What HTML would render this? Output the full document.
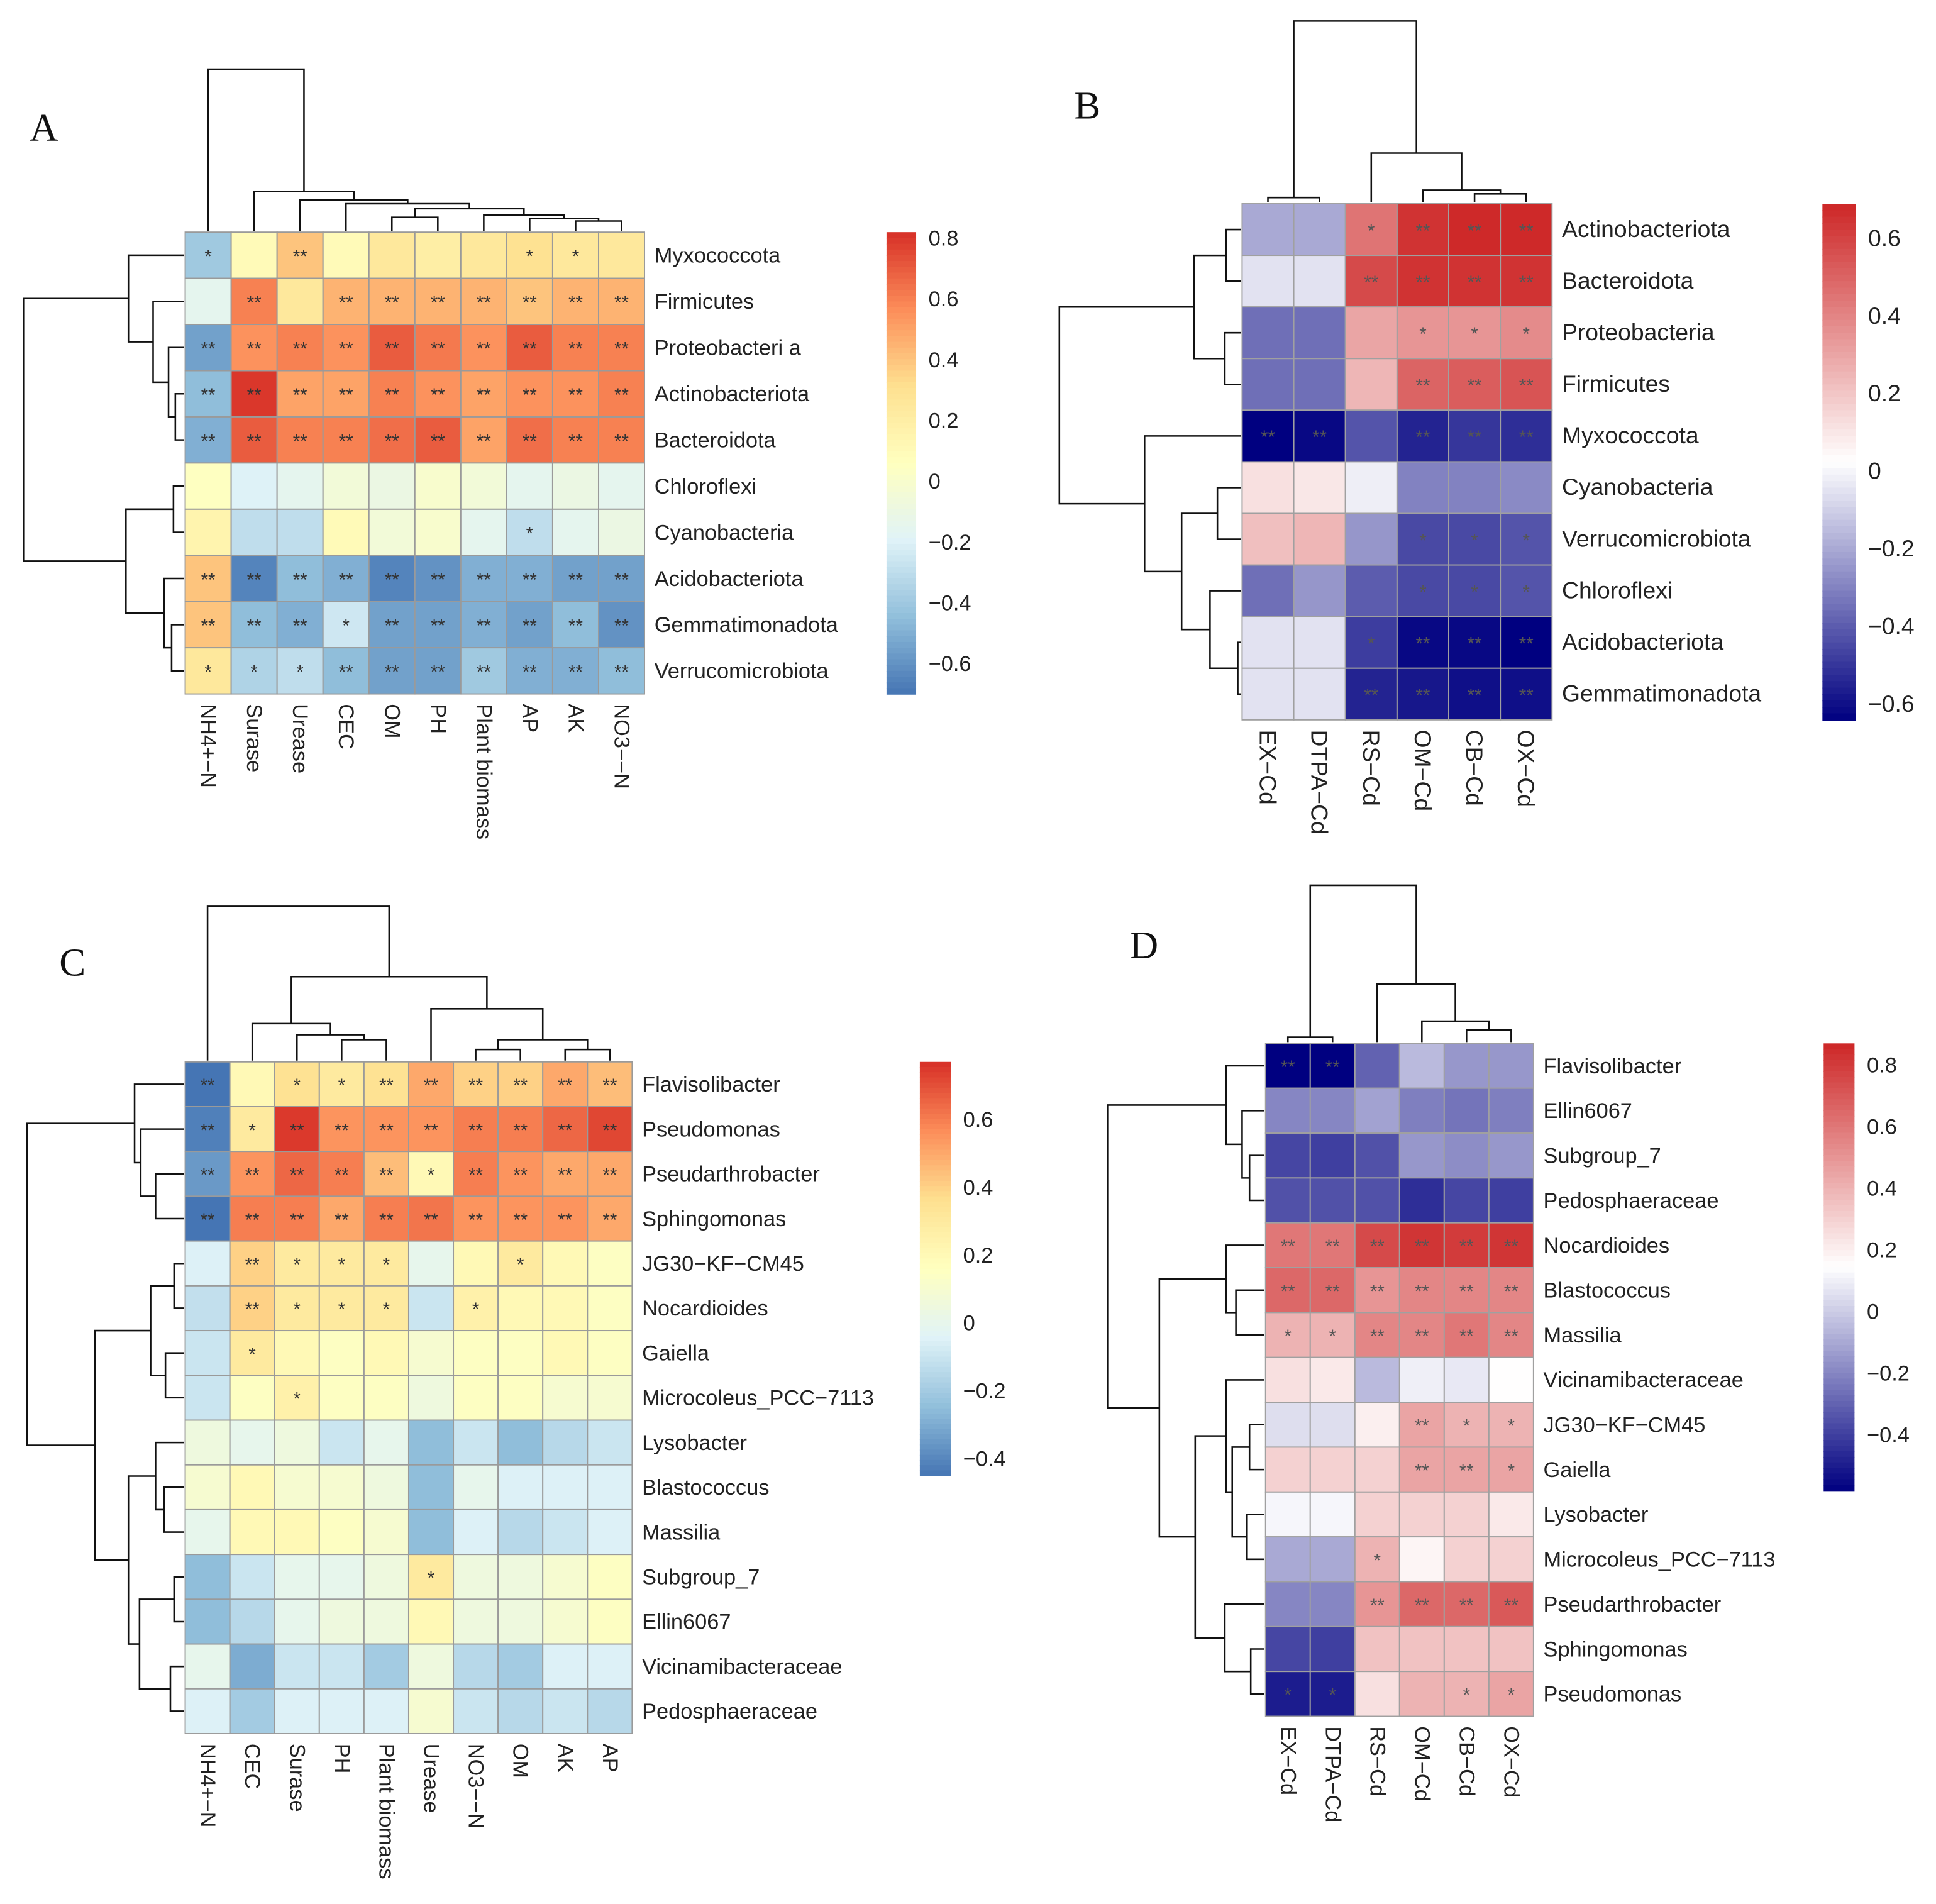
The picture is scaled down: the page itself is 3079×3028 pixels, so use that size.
<!DOCTYPE html>
<html><head><meta charset="utf-8"><style>
html,body{margin:0;padding:0;background:#fff}
svg{display:block}
text{font-family:"Liberation Sans",sans-serif}
</style></head><body>
<svg id="fig" xmlns="http://www.w3.org/2000/svg" width="3079" height="3028" viewBox="0 0 1568 1542" preserveAspectRatio="none">
<rect width="1568" height="1542" fill="#fff"/>
</svg>
<script>
// ---------- Panel A data ----------
const aCols = ["NH4+\u2212N","Surase","Urease","CEC","OM","PH","Plant biomass","AP","AK","NO3\u2212\u2212N"];
const aRows = ["Myxococcota","Firmicutes","Proteobacteri a","Actinobacteriota","Bacteroidota","Chloroflexi","Cyanobacteria","Acidobacteriota","Gemmatimonadota","Verrucomicrobiota"];
const aVals = [
[-0.40,0.10,0.40,0.10,0.25,0.20,0.25,0.30,0.25,0.25],
[-0.15,0.60,0.25,0.45,0.45,0.45,0.45,0.40,0.45,0.45],
[-0.55,0.55,0.60,0.55,0.70,0.62,0.55,0.70,0.60,0.60],
[-0.45,0.80,0.50,0.50,0.60,0.55,0.50,0.55,0.55,0.60],
[-0.50,0.70,0.60,0.60,0.65,0.70,0.50,0.65,0.60,0.60],
[0.05,-0.20,-0.15,-0.05,-0.10,0.00,-0.05,-0.15,-0.10,-0.15],
[0.15,-0.30,-0.30,0.10,-0.05,0.00,-0.15,-0.30,-0.15,-0.10],
[0.40,-0.65,-0.45,-0.50,-0.65,-0.60,-0.50,-0.50,-0.55,-0.55],
[0.40,-0.45,-0.50,-0.25,-0.55,-0.55,-0.50,-0.55,-0.45,-0.60],
[0.25,-0.35,-0.30,-0.45,-0.55,-0.55,-0.40,-0.50,-0.50,-0.45]];
const aStars = [
["*","","**","","","","","*","*",""],
["","**","","**","**","**","**","**","**","**"],
["**","**","**","**","**","**","**","**","**","**"],
["**","**","**","**","**","**","**","**","**","**"],
["**","**","**","**","**","**","**","**","**","**"],
["","","","","","","","","",""],
["","","","","","","","*","",""],
["**","**","**","**","**","**","**","**","**","**"],
["**","**","**","*","**","**","**","**","**","**"],
["*","*","*","**","**","**","**","**","**","**"]];
const aTicks = [0.8,0.6,0.4,0.2,0,-0.2,-0.4,-0.6];
const aTickLabels = ["0.8","0.6","0.4","0.2","0","\u22120.2","\u22120.4","\u22120.6"];

// ---------- Panel B data ----------
const bCols = ["EX\u2212Cd","DTPA\u2212Cd","RS\u2212Cd","OM\u2212Cd","CB\u2212Cd","OX\u2212Cd"];
const bRows = ["Actinobacteriota","Bacteroidota","Proteobacteria","Firmicutes","Myxococcota","Cyanobacteria","Verrucomicrobiota","Chloroflexi","Acidobacteriota","Gemmatimonadota"];
const bVals = [
[-0.20,-0.20,0.45,0.65,0.68,0.68],
[-0.05,-0.05,0.58,0.65,0.65,0.65],
[-0.35,-0.35,0.30,0.35,0.35,0.38],
[-0.35,-0.35,0.25,0.50,0.52,0.55],
[-0.64,-0.62,-0.42,-0.55,-0.50,-0.52],
[0.12,0.10,-0.02,-0.30,-0.30,-0.28],
[0.22,0.25,-0.25,-0.45,-0.45,-0.42],
[-0.35,-0.25,-0.40,-0.45,-0.45,-0.42],
[-0.05,-0.05,-0.48,-0.62,-0.62,-0.64],
[-0.05,-0.05,-0.55,-0.58,-0.60,-0.60]];
const bStars = [
["","","*","**","**","**"],
["","","**","**","**","**"],
["","","","*","*","*"],
["","","","**","**","**"],
["**","**","","**","**","**"],
["","","","","",""],
["","","","*","*","*"],
["","","","*","*","*"],
["","","*","**","**","**"],
["","","**","**","**","**"]];
const bTicks = [0.6,0.4,0.2,0,-0.2,-0.4,-0.6];
const bTickLabels = ["0.6","0.4","0.2","0","\u22120.2","\u22120.4","\u22120.6"];

// ---------- Panel C data ----------
const cCols = ["NH4+\u2212N","CEC","Surase","PH","Plant biomass","Urease","NO3\u2212\u2212N","OM","AK","AP"];
const cRows = ["Flavisolibacter","Pseudomonas","Pseudarthrobacter","Sphingomonas","JG30\u2212KF\u2212CM45","Nocardioides","Gaiella","Microcoleus_PCC\u22127113","Lysobacter","Blastococcus","Massilia","Subgroup_7","Ellin6067","Vicinamibacteraceae","Pedosphaeraceae"];
const cVals = [
[-0.45,0.20,0.35,0.30,0.35,0.50,0.40,0.40,0.50,0.45],
[-0.42,0.30,0.75,0.55,0.55,0.55,0.60,0.60,0.65,0.72],
[-0.35,0.55,0.65,0.60,0.45,0.20,0.60,0.55,0.50,0.50],
[-0.45,0.60,0.60,0.50,0.60,0.62,0.55,0.55,0.55,0.50],
[-0.05,0.40,0.30,0.30,0.30,0.00,0.20,0.30,0.20,0.15],
[-0.12,0.40,0.30,0.30,0.30,-0.10,0.25,0.20,0.20,0.15],
[-0.10,0.30,0.20,0.15,0.20,0.10,0.15,0.15,0.20,0.15],
[-0.10,0.15,0.25,0.15,0.15,0.05,0.15,0.15,0.10,0.10],
[0.05,0.00,0.05,-0.10,0.00,-0.25,-0.10,-0.25,-0.15,-0.10],
[0.10,0.20,0.10,0.10,0.05,-0.25,0.00,-0.05,-0.05,-0.05],
[0.00,0.20,0.20,0.15,0.10,-0.25,-0.05,-0.15,-0.10,-0.05],
[-0.25,-0.10,0.00,0.00,0.05,0.30,0.05,0.05,0.10,0.15],
[-0.25,-0.15,0.00,0.05,0.05,0.20,0.05,0.05,0.10,0.15],
[0.00,-0.30,-0.10,-0.10,-0.20,0.05,-0.15,-0.20,-0.05,-0.05],
[-0.05,-0.20,-0.05,-0.05,-0.05,0.10,-0.10,-0.15,-0.10,-0.15]];
const cStars = [
["**","","*","*","**","**","**","**","**","**"],
["**","*","**","**","**","**","**","**","**","**"],
["**","**","**","**","**","*","**","**","**","**"],
["**","**","**","**","**","**","**","**","**","**"],
["","**","*","*","*","","","*","",""],
["","**","*","*","*","","*","","",""],
["","*","","","","","","","",""],
["","","*","","","","","","",""],
["","","","","","","","","",""],
["","","","","","","","","",""],
["","","","","","","","","",""],
["","","","","","*","","","",""],
["","","","","","","","","",""],
["","","","","","","","","",""],
["","","","","","","","","",""]];
const cTicks = [0.6,0.4,0.2,0,-0.2,-0.4];
const cTickLabels = ["0.6","0.4","0.2","0","\u22120.2","\u22120.4"];

// ---------- Panel D data ----------
const dCols = ["EX\u2212Cd","DTPA\u2212Cd","RS\u2212Cd","OM\u2212Cd","CB\u2212Cd","OX\u2212Cd"];
const dRows = ["Flavisolibacter","Ellin6067","Subgroup_7","Pedosphaeraceae","Nocardioides","Blastococcus","Massilia","Vicinamibacteraceae","JG30\u2212KF\u2212CM45","Gaiella","Lysobacter","Microcoleus_PCC\u22127113","Pseudarthrobacter","Sphingomonas","Pseudomonas"];
const dVals = [
[-0.58,-0.58,-0.30,-0.05,-0.15,-0.15],
[-0.20,-0.20,-0.12,-0.22,-0.25,-0.22],
[-0.38,-0.40,-0.35,-0.15,-0.18,-0.15],
[-0.35,-0.35,-0.35,-0.45,-0.38,-0.40],
[0.60,0.60,0.75,0.82,0.80,0.82],
[0.65,0.65,0.50,0.55,0.55,0.55],
[0.40,0.40,0.55,0.55,0.60,0.55],
[0.25,0.22,-0.05,0.10,0.08,0.15],
[0.05,0.05,0.20,0.45,0.40,0.40],
[0.30,0.30,0.30,0.45,0.45,0.45],
[0.12,0.12,0.30,0.30,0.30,0.22],
[-0.10,-0.10,0.40,0.18,0.30,0.30],
[-0.20,-0.20,0.50,0.65,0.65,0.70],
[-0.38,-0.40,0.35,0.35,0.35,0.35],
[-0.50,-0.50,0.25,0.40,0.40,0.45]];
const dStars = [
["**","**","","","",""],
["","","","","",""],
["","","","","",""],
["","","","","",""],
["**","**","**","**","**","**"],
["**","**","**","**","**","**"],
["*","*","**","**","**","**"],
["","","","","",""],
["","","","**","*","*"],
["","","","**","**","*"],
["","","","","",""],
["","","*","","",""],
["","","**","**","**","**"],
["","","","","",""],
["*","*","","","*","*"]];
const dTicks = [0.8,0.6,0.4,0.2,0,-0.2,-0.4];
const dTickLabels = ["0.8","0.6","0.4","0.2","0","\u22120.2","\u22120.4"];

// dendrogram trees: [left, right, height]; leaves are indices
const aColTree = [0,[1,[2,[3,[[4,5,11],[6,[7,[8,9,8],10],13],18],22],25],32],131];
const aRowTree = [[0,[1,[2,[3,4,7],12.5],25],45],[[5,6,8.5],[7,[8,9,10],16],47],130];
const bColTree = [[0,1,4],[2,[3,[4,5,7],10],40],147];
const bRowTree = [[[0,1,12],[2,3,13],38],[4,[[5,6,19],[7,[8,9,2.5],25],48],78],147];
const cColTree = [0,[[1,[2,[3,4,17],21],30],[5,[[6,7,9],[8,9,9],17],42],68],125];
const cRowTree = [[0,[1,[2,3,23],35],40],[[[4,5,8],[6,7,15],27],[[8,[9,10,16],23],[[11,12,8],[13,14,11],36],45],72],127];
const dColTree = [[0,1,4],[2,[3,[4,5,10],17],47],127];
const dRowTree = [[0,[1,[2,3,12],18],31],[[4,[5,6,23],31],[[7,[[8,9,12],[10,11,14],26],31],[12,[13,14,11],32],56],85],127];

const RDYLBU = ["#4575B4","#91BFDB","#E0F3F8","#FFFFBF","#FEE090","#FC8D59","#D73027"];
const BWR = ["#000080","#FFFFFF","#CD2626"];

const svg = document.getElementById('fig');
const NS = "http://www.w3.org/2000/svg";
function mk(tag, attrs, parent){ const e=document.createElementNS(NS,tag); for(const k in attrs) e.setAttribute(k,attrs[k]); (parent||svg).appendChild(e); return e; }
function hex(h){return [parseInt(h.slice(1,3),16),parseInt(h.slice(3,5),16),parseInt(h.slice(5,7),16)];}
function pal(stops,t){ t=Math.max(0,Math.min(1,t)); const n=stops.length-1; const i=Math.min(n-1,Math.floor(t*n)); const f=t*n-i; const a=hex(stops[i]),b=hex(stops[i+1]); return "rgb("+a.map((v,k)=>Math.round(v+(b[k]-v)*f)).join(",")+")"; }

function drawTree(g, tree, leafPos, base, dir){
  function rec(node){
    if(typeof node==="number") return [leafPos(node),0];
    const L=rec(node[0]), R=rec(node[1]); const h=node[2];
    let d;
    if(dir==="up"){ const y=base-h; d=`M${L[0]},${base-L[1]}V${y}H${R[0]}V${base-R[1]}`; }
    else { const x=base-h; d=`M${base-L[1]},${L[0]}H${x}V${R[0]}H${base-R[1]}`; }
    const p=mk('path',{d:d,fill:'none',stroke:'#111','stroke-width':1.3},g);
    
    
    return [(L[0]+R[0])/2,h];
  }
  rec(tree);
}

function panel(P){
  const g=mk('g',{});
  
  
  const nC=P.cols.length, nR=P.rows.length;
  const cw=(P.x1-P.x0)/nC, rh=(P.y1-P.y0)/nR;
  const xc=j=>P.x0+cw*(j+0.5), yc=i=>P.y0+rh*(i+0.5);
  const t=v=>(v-P.vmin)/(P.vmax-P.vmin);
  const lab=mk('text',{x:P.lx,y:P.ly,'font-size':32,fill:'#111',style:'font-family:"Liberation Serif",serif'},g);
  lab.textContent=P.id;
  
  
  const cells=mk('g',{},g);
  
  
  for(let i=0;i<nR;i++) for(let j=0;j<nC;j++){
    const r=mk('rect',{x:P.x0+cw*j,y:P.y0+rh*i,width:cw,height:rh,fill:pal(P.pal,t(P.vals[i][j])),stroke:P.grid,'stroke-width':1},cells);
    
    
    const s=P.stars[i][j];
    if(s){ const st=mk('text',{x:xc(j),y:yc(i)+6,'text-anchor':'middle','font-size':15,fill:P.starFill},cells); st.textContent=s;
      
       }
  }
  for(let i=0;i<nR;i++){ const tx=mk('text',{x:P.x1+8,y:yc(i)+6,'font-size':P.fs,fill:'#222'},g); tx.textContent=P.rows[i];
    
     }
  for(let j=0;j<nC;j++){ const x=xc(j), y=P.y1+8; const tx=mk('text',{x:x,y:y,transform:`rotate(90 ${x} ${y})`,'font-size':P.fs,fill:'#222','dominant-baseline':'central'},g); tx.textContent=P.cols[j];
    
     }
  drawTree(g,P.colTree,xc,P.y0-1,"up");
  drawTree(g,P.rowTree,yc,P.x0-1,"left");
  const cb=mk('g',{},g);
  
  
  const N=80, hh=(P.cb.y1-P.cb.y0)/N;
  for(let k=0;k<N;k++){ mk('rect',{x:P.cb.x,y:P.cb.y0+k*hh,width:P.cb.w,height:hh+0.6,fill:pal(P.pal,1-(k+0.5)/N)},cb); }
  const cy=v=>P.cb.y0+(P.vmax-v)/(P.vmax-P.vmin)*(P.cb.y1-P.cb.y0);
  P.ticks.forEach((v,k)=>{ const tx=mk('text',{x:P.cb.x+P.cb.w+10,y:cy(v)+6,'font-size':P.fs,fill:'#222'},cb); tx.textContent=P.tickLabels[k];
    
     });
}

panel({id:"A",lx:24,ly:114,x0:150,x1:522,y0:188,y1:562,cols:aCols,rows:aRows,vals:aVals,stars:aStars,pal:RDYLBU,vmin:-0.70,vmax:0.82,grid:"#9a9a9a",starFill:"#333",fs:17.5,
  colTree:aColTree,rowTree:aRowTree,cb:{x:718,w:24,y0:188,y1:562},ticks:aTicks,tickLabels:aTickLabels});
panel({id:"B",lx:870,ly:96,x0:1006,x1:1257,y0:165,y1:583,cols:bCols,rows:bRows,vals:bVals,stars:bStars,pal:BWR,vmin:-0.64,vmax:0.69,grid:"#a0a0a0",starFill:"#555",fs:19,
  colTree:bColTree,rowTree:bRowTree,cb:{x:1476,w:27,y0:165,y1:583},ticks:bTicks,tickLabels:bTickLabels});
panel({id:"C",lx:48,ly:790,x0:150,x1:512,y0:860,y1:1404,cols:cCols,rows:cRows,vals:cVals,stars:cStars,pal:RDYLBU,vmin:-0.45,vmax:0.77,grid:"#9a9a9a",starFill:"#333",fs:17.5,
  colTree:cColTree,rowTree:cRowTree,cb:{x:745,w:25,y0:860,y1:1195},ticks:cTicks,tickLabels:cTickLabels});
panel({id:"D",lx:915,ly:776,x0:1025,x1:1242,y0:845,y1:1390,cols:dCols,rows:dRows,vals:dVals,stars:dStars,pal:BWR,vmin:-0.58,vmax:0.87,grid:"#a0a0a0",starFill:"#555",fs:17.5,
  colTree:dColTree,rowTree:dRowTree,cb:{x:1477,w:25,y0:845,y1:1207},ticks:dTicks,tickLabels:dTickLabels});
</script>
</body></html>
